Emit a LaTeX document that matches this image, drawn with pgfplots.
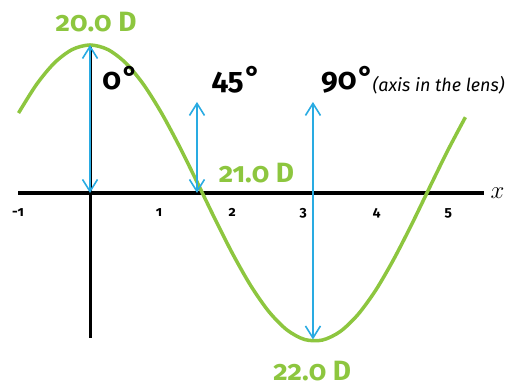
\documentclass[border=0pt]{standalone}
\usepackage{fontspec}
\setmainfont{Fira Sans}[Numbers=OldStyle]
\usepackage{pgfplots}
\pgfplotsset{compat=1.18}
\usetikzlibrary{arrows.meta}
\definecolor{lensgreen}{HTML}{8DC63F}
\definecolor{lensblue}{HTML}{29ABE2}
\begin{document}
\begin{tikzpicture}
\begin{axis}[
  width=505bp, height=388bp, scale only axis,
  xmin=-1.259, xmax=5.804, ymin=-1.318, ymax=1.304,
  hide axis, clip=false,
]
\path (rel axis cs:0,0) rectangle (rel axis cs:1,1);
% axes
\addplot[black, line width=3.5bp] coordinates {(-1.007,0) (5.51,0)};
\addplot[black, line width=3bp] coordinates {(0,1.0) (0,-0.98)};
% curve
\addplot[lensgreen, line width=3.5bp, smooth] coordinates {
(-1.00,0.540) (-0.75,0.732) (-0.50,0.878) (-0.25,0.969) (0.00,1.000)
(0.25,0.969) (0.50,0.878) (0.75,0.732) (1.00,0.540) (1.25,0.315)
(1.50,0.071) (1.75,-0.178) (2.00,-0.416) (2.25,-0.628) (2.50,-0.801)
(2.75,-0.924) (3.00,-0.990) (3.25,-0.994) (3.50,-0.936) (3.75,-0.820)
(4.00,-0.654) (4.25,-0.446) (4.50,-0.211) (4.75,0.038) (5.00,0.284)
(5.25,0.512)};
% arrows
\tikzset{barb/.style={lensblue, line width=1.6bp,
  {Straight Barb[length=12bp,width=15bp,line width=1.6bp]}-{Straight Barb[length=12bp,width=15bp,line width=1.6bp]}}}
\addplot[barb] coordinates {(0,0) (0,1.0)};
\addplot[barb] coordinates {(1.496,0) (1.496,0.615)};
\addplot[barb] coordinates {(3.118,-0.99) (3.118,0.615)};
% labels
\node[anchor=base, inner sep=0, text=lensgreen, font=\fontsize{28}{28}\selectfont\bfseries] at (axis cs:0.084,1.088) {20.0 D};
\node[anchor=base west, inner sep=0, text=lensgreen, font=\fontsize{28}{28}\selectfont\bfseries] at (axis cs:1.80,0.074) {21.0 D};
\node[anchor=base west, inner sep=0, text=lensgreen, font=\fontsize{28}{28}\selectfont\bfseries] at (axis cs:2.56,-1.264) {22.0 D};
\node[anchor=base west, inner sep=0, font=\fontsize{30}{30}\selectfont\bfseries] at (axis cs:0.17,0.696) {0\kern1.5bp\raisebox{2bp}{°}};
\node[anchor=base west, inner sep=0, font=\fontsize{30}{30}\selectfont\bfseries] at (axis cs:1.70,0.696) {45\kern1.5bp\raisebox{2bp}{°}};
\node[anchor=base west, inner sep=0, font=\fontsize{30}{30}\selectfont\bfseries] at (axis cs:3.23,0.696) {90\kern1.5bp\raisebox{2bp}{°}};
\node[anchor=base west, inner sep=0, font=\fontsize{18}{18}\selectfont\itshape] at (axis cs:3.95,0.689) {(axis in the lens)};
\node[anchor=center, inner sep=0, font=\fontsize{32}{32}\selectfont] at (axis cs:5.70,0.0) {$x$};
% tick labels
\node[anchor=base, inner sep=0, font=\fontsize{14}{14}\selectfont\bfseries] at (axis cs:-1.007,-0.162) {-1};
\node[anchor=base, inner sep=0, font=\fontsize{14}{14}\selectfont\bfseries] at (axis cs:0.965,-0.162) {1};
\node[anchor=base, inner sep=0, font=\fontsize{14}{14}\selectfont\bfseries] at (axis cs:1.99,-0.162) {2};
\node[anchor=base, inner sep=0, font=\fontsize{14}{14}\selectfont\bfseries] at (axis cs:2.98,-0.162) {3};
\node[anchor=base, inner sep=0, font=\fontsize{14}{14}\selectfont\bfseries] at (axis cs:4.01,-0.162) {4};
\node[anchor=base, inner sep=0, font=\fontsize{14}{14}\selectfont\bfseries] at (axis cs:5.01,-0.162) {5};
\end{axis}
\end{tikzpicture}
\end{document}
